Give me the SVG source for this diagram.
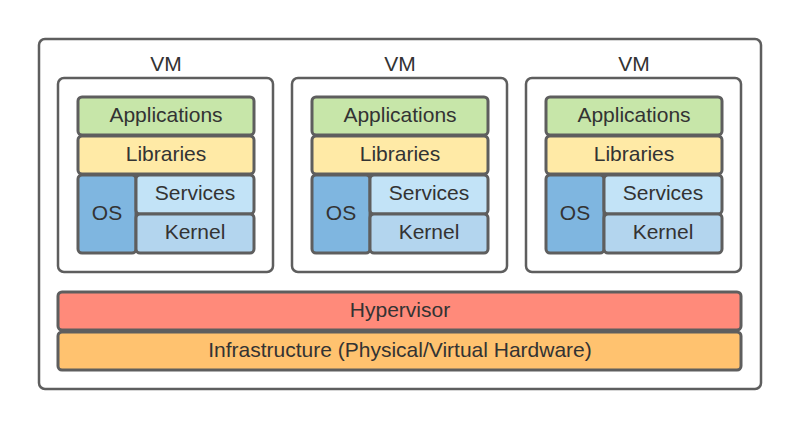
<svg xmlns="http://www.w3.org/2000/svg" width="800" height="429" viewBox="0 0 800 429">
<style>
.box{fill:#ffffff;stroke:#5e5e5e;stroke-width:2.5}
.cell{stroke:#5e5e5e;stroke-width:3}
.t{font-family:"Liberation Sans",Arial,sans-serif;font-size:21px;fill:#333333;text-anchor:middle;dominant-baseline:central}
.app{fill:#c7e6a9}.lib{fill:#ffeaa6}.os{fill:#7fb6e0}.svc{fill:#c2e3f7}.ker{fill:#b3d5ee}
.hyp{fill:#ff8a7a}.inf{fill:#ffc26f}
</style>
<defs>
<g id="stack">
<rect class="cell app" x="78" y="97" width="176" height="38" rx="4"/>
<text class="t" x="166" y="114">Applications</text>
<rect class="cell lib" x="78" y="136" width="176" height="38" rx="4"/>
<text class="t" x="166" y="153">Libraries</text>
<rect class="cell os" x="78" y="175" width="58" height="78" rx="4"/>
<text class="t" x="107" y="212">OS</text>
<rect class="cell svc" x="136" y="175" width="118" height="39" rx="4"/>
<text class="t" x="195" y="192">Services</text>
<rect class="cell ker" x="136" y="214" width="118" height="39" rx="4"/>
<text class="t" x="195" y="231">Kernel</text>
</g>
</defs>
<g id="host">
<rect class="box" x="39" y="39" width="722" height="350" rx="6"/>
</g>
<g id="vm1">
<text class="t" x="166" y="63">VM</text>
<rect class="box" x="58" y="78" width="215" height="194" rx="6"/>
<use href="#stack"/>
</g>
<g id="vm2">
<text class="t" x="400" y="63">VM</text>
<rect class="box" x="292" y="78" width="215" height="194" rx="6"/>
<use href="#stack" x="234"/>
</g>
<g id="vm3">
<text class="t" x="634" y="63">VM</text>
<rect class="box" x="526" y="78" width="215" height="194" rx="6"/>
<use href="#stack" x="468"/>
</g>
<g id="hypervisor">
<rect class="cell hyp" x="58" y="292" width="683" height="38" rx="4"/>
<text class="t" x="400" y="309">Hypervisor</text>
</g>
<g id="infrastructure">
<rect class="cell inf" x="58" y="332" width="683" height="38" rx="4"/>
<text class="t" x="400" y="349">Infrastructure (Physical/Virtual Hardware)</text>
</g>
<g id="connectors"/>
</svg>
